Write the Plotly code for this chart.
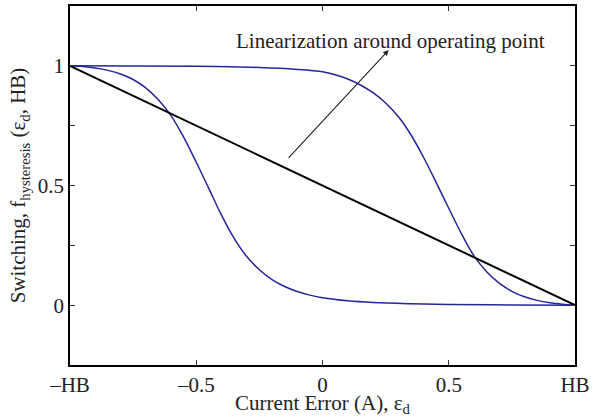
import plotly.graph_objects as go

# Data
left_x = [-1.00, -0.95, -0.90, -0.85, -0.80, -0.75, -0.70, -0.65, -0.60, -0.55,
          -0.50, -0.45, -0.40, -0.35, -0.30, -0.25, -0.20, -0.15, -0.10, -0.05,
          0.00, 0.10, 0.20, 0.35, 0.50, 0.75, 1.00]
left_y = [1.000, 0.997, 0.991, 0.981, 0.966, 0.943, 0.908, 0.858, 0.792, 0.702,
          0.597, 0.487, 0.376, 0.279, 0.203, 0.148, 0.107, 0.078, 0.057, 0.042,
          0.031, 0.018, 0.011, 0.006, 0.003, 0.001, 0.000]

right_x = [-1.00, -0.50, -0.25, -0.10, 0.00, 0.05, 0.10, 0.15, 0.20, 0.25,
           0.30, 0.35, 0.40, 0.45, 0.50, 0.55, 0.60, 0.65, 0.70, 0.75,
           0.80, 0.85, 0.90, 0.95, 1.00]
right_y = [1.000, 0.998, 0.993, 0.985, 0.975, 0.963, 0.945, 0.920, 0.888, 0.845,
           0.788, 0.712, 0.618, 0.513, 0.405, 0.299, 0.206, 0.140, 0.092, 0.058,
           0.035, 0.020, 0.010, 0.004, 0.000]

lin_x = [-1.0, 1.0]
lin_y = [1.0, 0.0]

x_tickvals = [-1, -0.5, 0, 0.5, 1]
x_ticktext = ["\u2013HB", "\u20130.5", "0", "0.5", "HB"]
y_tickvals = [0, 0.25, 0.5, 0.75, 1]
y_ticktext = ["0", "", "0.5", "", "1"]

annot_text = "Linearization around operating point"

blue = "#25259b"
font_fam = "Liberation Serif, Times New Roman, serif"
fsize = 21

fig = go.Figure()
fig.add_trace(go.Scatter(x=left_x, y=left_y, mode="lines",
                         line=dict(color=blue, width=1.5, shape="spline", smoothing=1.0)))
fig.add_trace(go.Scatter(x=right_x, y=right_y, mode="lines",
                         line=dict(color=blue, width=1.5, shape="spline", smoothing=1.0)))
fig.add_trace(go.Scatter(x=lin_x, y=lin_y, mode="lines",
                         line=dict(color="black", width=2)))

fig.add_annotation(x=0.262, y=1.066, ax=-0.14, ay=0.609, xref="x", yref="y",
                   axref="x", ayref="y", text="", showarrow=True,
                   arrowhead=2, arrowsize=1, arrowwidth=1.1, arrowcolor="#222")
fig.add_annotation(x=0.27, y=1.105, xref="x", yref="y", text=annot_text,
                   showarrow=False, font=dict(size=fsize, color="#222", family=font_fam))

axis_common = dict(showline=True, linecolor="black", linewidth=1.5, mirror="ticks",
                   ticks="inside", ticklen=5, tickcolor="#333", tickwidth=1,
                   showgrid=False, zeroline=False,
                   tickfont=dict(size=fsize, color="#222", family=font_fam))

fig.update_xaxes(range=[-1, 1], tickvals=x_tickvals, ticktext=x_ticktext,
                 title=dict(text="Current Error (A), \u03b5<sub>d</sub>", standoff=1,
                            font=dict(size=fsize, color="#222", family=font_fam)),
                 **axis_common)
fig.update_yaxes(range=[-0.25, 1.25], tickvals=y_tickvals, ticktext=y_ticktext,
                 title=dict(text="Switching, f<sub>hysteresis</sub> (\u03b5<sub>d</sub>, HB)",
                            standoff=6,
                            font=dict(size=fsize, color="#222", family=font_fam)),
                 **axis_common)

fig.update_layout(width=594, height=417, showlegend=False,
                  margin=dict(l=70, r=17, t=4, b=48),
                  plot_bgcolor="white", paper_bgcolor="white",
                  font=dict(family=font_fam, size=fsize, color="#222"))

fig.write_html("out.html")
